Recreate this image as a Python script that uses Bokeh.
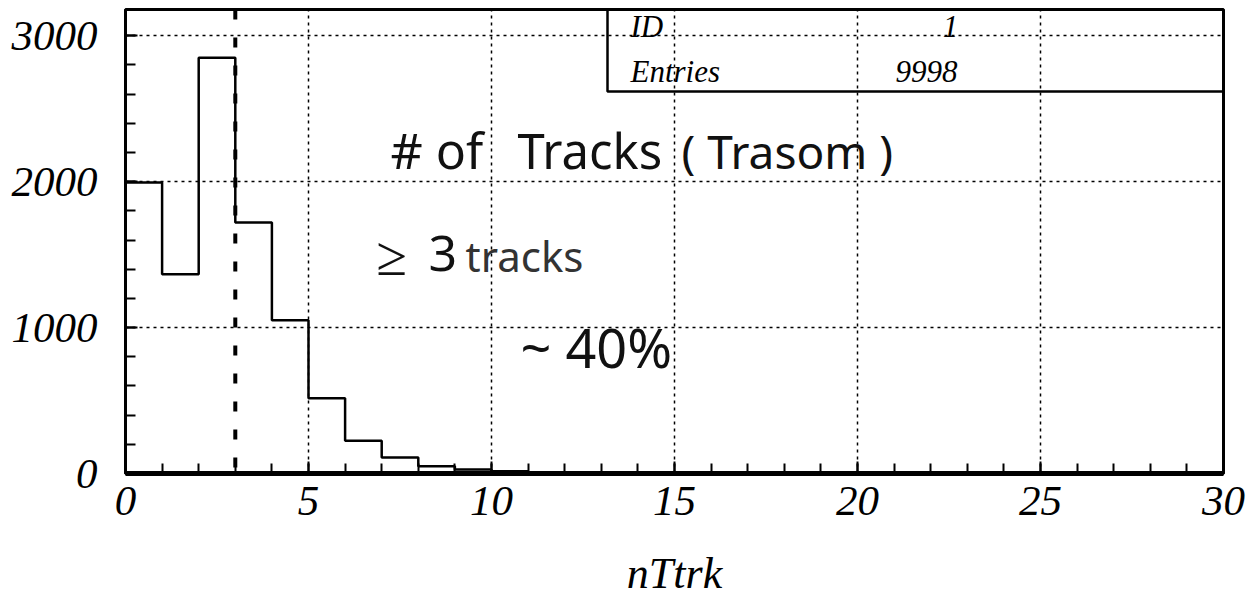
import numpy as np
from bokeh.plotting import figure
from bokeh.models import Range1d, Span, Label, BoxAnnotation, FixedTicker
from bokeh.embed import file_html
from bokeh.resources import INLINE

# nTtrk histogram: unit-width bins from 0 to 30
bin_edges = list(range(0, 31))
counts = [1995, 1365, 2850, 1720, 1050, 515, 225, 110, 50, 27, 15, 8, 4, 2] + [0] * 16

hist_id = 1
entries = 9998
track_cut = 3

x_ticks = [0, 5, 10, 15, 20, 25, 30]
x_minor = list(range(0, 31))
y_ticks = [0, 1000, 2000, 3000]
y_minor = list(range(0, 3200, 200))

x_label = "nTtrk"
title_parts = ["# of", "Tracks", "( Trasom )"]
cut_note = ["\u2265", "3", "tracks"]
fraction_note = "~ 40%"

SERIF = "Liberation Serif"
HAND = "Noto Sans"

p = figure(
    width=1251, height=603,
    x_range=Range1d(0, 30), y_range=Range1d(0, 3180),
    output_backend="svg", toolbar_location=None,
    min_border_left=125, min_border_right=28,
    min_border_top=9, min_border_bottom=130,
)
p.background_fill_color = "white"
p.border_fill_color = "white"
p.outline_line_color = "black"
p.outline_line_width = 3

# axes: inward ticks, italic serif numbers
p.xaxis.ticker = FixedTicker(ticks=x_ticks, minor_ticks=x_minor)
p.yaxis.ticker = FixedTicker(ticks=y_ticks, minor_ticks=y_minor)
for ax in (p.xaxis[0], p.yaxis[0]):
    ax.axis_line_color = "black"
    ax.major_tick_line_color = "black"
    ax.minor_tick_line_color = "black"
    ax.major_tick_in = 12
    ax.major_tick_out = 0
    ax.minor_tick_in = 10
    ax.minor_tick_out = 0
    ax.major_tick_line_width = 2
    ax.minor_tick_line_width = 2
    ax.major_label_text_font = SERIF
    ax.major_label_text_font_style = "italic"
    ax.major_label_text_font_size = "43px"
    ax.major_label_text_color = "black"

p.xaxis.axis_line_width = 5
p.yaxis.axis_line_width = 3
p.xaxis.major_label_standoff = 13
p.yaxis.major_label_standoff = 28

p.xaxis.axis_label = x_label
p.xaxis.axis_label_text_font = SERIF
p.xaxis.axis_label_text_font_style = "italic"
p.xaxis.axis_label_text_font_size = "44px"
p.xaxis.axis_label_text_color = "black"
p.xaxis.axis_label_standoff = 31

# dotted grid
for g in (p.xgrid[0], p.ygrid[0]):
    g.grid_line_color = "black"
    g.grid_line_dash = "3 4"
    g.grid_line_width = 1.5

# histogram outline
p.step(x=bin_edges, y=counts + [counts[-1]], mode="after",
       line_color="black", line_width=2.5)

# track-count cut
p.add_layout(Span(location=track_cut, dimension="height", line_color="black",
                  line_width=4, line_dash="10 18"))

# statistics box (frame-relative screen units)
p.add_layout(BoxAnnotation(left=482, right=1098, bottom=382, top=464,
                           left_units="screen", right_units="screen",
                           bottom_units="screen", top_units="screen",
                           fill_alpha=0, line_color="black", line_alpha=1.0,
                           line_width=2.5))


def text_label(text, x, y, size, font, style="normal", color="black", align="left"):
    # y is the wanted baseline height above the frame bottom
    p.add_layout(Label(x=x, y=y + 0.35 * size, x_units="screen", y_units="screen",
                       text=text, text_font=font, text_font_style=style,
                       text_font_size=f"{size}px", text_color=color,
                       text_align=align, text_baseline="alphabetic"))


text_label("ID", 505, 436, 31, SERIF, "italic")
text_label(str(hist_id), 825, 436, 31, SERIF, "italic", align="center")
text_label("Entries", 505, 391, 31, SERIF, "italic")
text_label(str(entries), 801, 391, 31, SERIF, "italic", align="center")

# hand-written notes
text_label(title_parts[0], 265, 306, 50, HAND, color="#111111")
text_label(title_parts[1], 392, 306, 49, HAND, color="#111111")
text_label(title_parts[2], 556, 306, 46, HAND, color="#111111")
text_label(cut_note[0], 251, 201, 56, HAND, color="#111111")
text_label(cut_note[1], 303, 203, 50, HAND, color="#111111")
text_label(cut_note[2], 340, 203, 42, HAND, color="#333333")
text_label(fraction_note, 395, 108, 54, HAND, color="#111111")

open("out.html", "w").write(file_html(p, INLINE))
